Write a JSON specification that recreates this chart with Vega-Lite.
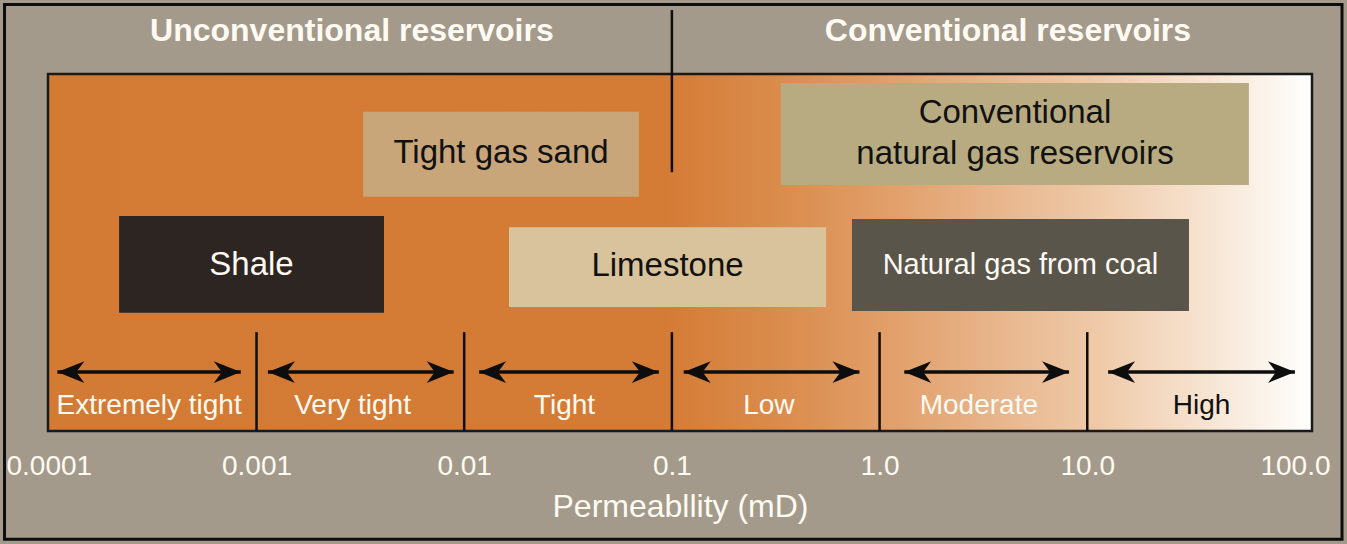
{
  "$schema": "https://vega.github.io/schema/vega-lite/v6.json",
  "width": 1264,
  "height": 357,
  "autosize": {"type": "none"},
  "padding": {"left": 48, "top": 74, "right": 35, "bottom": 113},
  "background": "#a39a8c",
  "config": {"view": {"stroke": null}, "text": {"font": "Liberation Sans"}},
  "datasets": {
    "boxes": [
      {"name": "Tight gas sand", "x1": 0.00326, "x2": 0.0694, "y1": 89.4, "y2": 65.6},
      {"name": "Conventional natural gas reservoirs", "x1": 0.335, "x2": 60.0, "y1": 97.5, "y2": 68.9},
      {"name": "Shale", "x1": 0.000218, "x2": 0.00411, "y1": 60.2, "y2": 33.1},
      {"name": "Limestone", "x1": 0.01643, "x2": 0.5526, "y1": 57.1, "y2": 34.7},
      {"name": "Natural gas from coal", "x1": 0.7364, "x2": 30.88, "y1": 59.4, "y2": 33.6}
    ],
    "boxlabels": [
      {"label": "Tight gas sand", "x": 0.01504, "y": 77.9},
      {"label": "Conventional\nnatural gas reservoirs", "x": 4.487, "y": 89.1},
      {"label": "Shale", "x": 0.000946, "y": 46.5},
      {"label": "Limestone", "x": 0.0953, "y": 46.2},
      {"label": "Natural gas from coal", "x": 4.769, "y": 46.5}
    ],
    "classes": [
      {"cls": "Extremely tight", "lo": 0.000110, "hi": 0.00084, "mid": 0.000304},
      {"cls": "Very tight", "lo": 0.001135, "hi": 0.0089, "mid": 0.0029},
      {"cls": "Tight", "lo": 0.0118, "hi": 0.0865, "mid": 0.0304},
      {"cls": "Low", "lo": 0.114, "hi": 0.80, "mid": 0.293},
      {"cls": "Moderate", "lo": 1.315, "hi": 8.17, "mid": 3.006},
      {"cls": "High", "lo": 12.6, "hi": 100, "mid": 35.5}
    ],
    "dividers": [{"v": 0.001}, {"v": 0.01}, {"v": 0.1}, {"v": 1}, {"v": 10}],
    "headers": [
      {"h": "Unconventional reservoirs", "x": 0.00288},
      {"h": "Conventional reservoirs", "x": 4.15}
    ],
    "one": [{}]
  },
  "layer": [
    {
      "data": {"name": "one"},
      "mark": {
        "type": "rect",
        "stroke": "#1a1a1a",
        "strokeWidth": 2.5,
        "fill": {
          "gradient": "linear",
          "x1": 0, "y1": 0, "x2": 1, "y2": 0,
          "stops": [
            {"offset": 0, "color": "#d37b34"},
            {"offset": 0.49, "color": "#d47c36"},
            {"offset": 0.58, "color": "#da8c4c"},
            {"offset": 0.674, "color": "#e2a16c"},
            {"offset": 0.753, "color": "#e8b68d"},
            {"offset": 0.832, "color": "#efcaa9"},
            {"offset": 0.911, "color": "#f6e2cf"},
            {"offset": 0.99, "color": "#fefcf9"},
            {"offset": 1, "color": "#ffffff"}
          ]
        }
      },
      "encoding": {
        "x": {
          "datum": 0.0000991, "type": "quantitative",
          "scale": {"type": "log", "domain": [0.0000991, 120.8], "nice": false},
          "axis": {
            "values": [0.0001, 0.001, 0.01, 0.1, 1, 10, 100],
            "labelExpr": "format(datum.value, datum.value >= 1 ? '.1f' : '.4~f')",
            "labelColor": "#fffaf2",
            "labelFont": "Liberation Sans",
            "labelFontSize": 28,
            "labelBaseline": "middle",
            "labelPadding": 35,
            "labelFlush": false,
            "labelOverlap": false,
            "domain": false,
            "ticks": false,
            "tickSize": 0,
            "grid": false,
            "title": "Permeabllity (mD)",
            "titleColor": "#fffaf2",
            "titleFont": "Liberation Sans",
            "titleFontSize": 32,
            "titleFontWeight": "normal",
            "titlePadding": 11
          }
        },
        "x2": {"datum": 120.8},
        "y": {"datum": 0, "type": "quantitative", "scale": {"domain": [0, 100], "nice": false, "zero": false}, "axis": null},
        "y2": {"datum": 100}
      }
    },
    {
      "data": {"name": "boxes"},
      "mark": {"type": "rect"},
      "encoding": {
        "x": {"field": "x1", "type": "quantitative", "scale": {"type": "log", "domain": [0.0000991, 120.8], "nice": false}},
        "x2": {"field": "x2"},
        "y": {"field": "y1", "type": "quantitative", "scale": {"domain": [0, 100], "nice": false, "zero": false}, "axis": null},
        "y2": {"field": "y2"},
        "color": {
          "field": "name", "type": "nominal", "legend": null,
          "scale": {
            "domain": ["Tight gas sand", "Conventional natural gas reservoirs", "Shale", "Limestone", "Natural gas from coal"],
            "range": ["#c9a57a", "#b9ab81", "#2d2522", "#d8c39c", "#5a554b"]
          }
        }
      }
    },
    {
      "data": {"name": "boxlabels"},
      "mark": {"type": "text", "lineBreak": "\n", "lineHeight": 41, "baseline": "middle", "align": "center"},
      "encoding": {
        "x": {"field": "x", "type": "quantitative", "scale": {"type": "log", "domain": [0.0000991, 120.8], "nice": false}},
        "y": {"field": "y", "type": "quantitative", "scale": {"domain": [0, 100], "nice": false, "zero": false}, "axis": null},
        "text": {"field": "label"},
        "color": {
          "condition": {"test": "datum.label === 'Shale' || datum.label === 'Natural gas from coal'", "value": "#fffaf2"},
          "value": "#111111"
        },
        "size": {
          "condition": {"test": "datum.label === 'Natural gas from coal'", "value": 29},
          "value": 33
        }
      }
    },
    {
      "data": {"name": "classes"},
      "mark": {"type": "rule", "color": "#0d0d0d", "strokeWidth": 3.5},
      "encoding": {
        "x": {"field": "lo", "type": "quantitative", "scale": {"type": "log", "domain": [0.0000991, 120.8], "nice": false}},
        "x2": {"field": "hi"},
        "y": {"datum": 16.5, "type": "quantitative", "scale": {"domain": [0, 100], "nice": false, "zero": false}, "axis": null}
      }
    },
    {
      "data": {"name": "classes"},
      "mark": {"type": "point", "shape": "M0,0L2,-0.8L1.4,0L2,0.8Z", "filled": true, "color": "#0d0d0d", "opacity": 1, "size": 729, "strokeWidth": 0},
      "encoding": {
        "x": {"field": "lo", "type": "quantitative", "scale": {"type": "log", "domain": [0.0000991, 120.8], "nice": false}},
        "y": {"datum": 16.5, "type": "quantitative", "scale": {"domain": [0, 100], "nice": false, "zero": false}, "axis": null}
      }
    },
    {
      "data": {"name": "classes"},
      "mark": {"type": "point", "shape": "M0,0L-2,-0.8L-1.4,0L-2,0.8Z", "filled": true, "color": "#0d0d0d", "opacity": 1, "size": 729, "strokeWidth": 0},
      "encoding": {
        "x": {"field": "hi", "type": "quantitative", "scale": {"type": "log", "domain": [0.0000991, 120.8], "nice": false}},
        "y": {"datum": 16.5, "type": "quantitative", "scale": {"domain": [0, 100], "nice": false, "zero": false}, "axis": null}
      }
    },
    {
      "data": {"name": "classes"},
      "mark": {"type": "text", "fontSize": 28, "baseline": "middle", "align": "center"},
      "encoding": {
        "x": {"field": "mid", "type": "quantitative", "scale": {"type": "log", "domain": [0.0000991, 120.8], "nice": false}},
        "y": {"datum": 7.0, "type": "quantitative", "scale": {"domain": [0, 100], "nice": false, "zero": false}, "axis": null},
        "text": {"field": "cls"},
        "color": {"condition": {"test": "datum.cls === 'High'", "value": "#111111"}, "value": "#fffaf2"}
      }
    },
    {
      "data": {"name": "dividers"},
      "mark": {"type": "rule", "color": "#0d0d0d", "strokeWidth": 2.5},
      "encoding": {
        "x": {"field": "v", "type": "quantitative", "scale": {"type": "log", "domain": [0.0000991, 120.8], "nice": false}},
        "y": {"datum": 27.7, "type": "quantitative", "scale": {"domain": [0, 100], "nice": false, "zero": false}, "axis": null},
        "y2": {"datum": 0}
      }
    },
    {
      "data": {"name": "one"},
      "mark": {"type": "rule", "color": "#0d0d0d", "strokeWidth": 2.5},
      "encoding": {
        "x": {"datum": 0.1, "type": "quantitative", "scale": {"type": "log", "domain": [0.0000991, 120.8], "nice": false}},
        "y": {"datum": 117.9, "type": "quantitative", "scale": {"domain": [0, 100], "nice": false, "zero": false}, "axis": null},
        "y2": {"datum": 72.5}
      }
    },
    {
      "data": {"name": "headers"},
      "mark": {"type": "text", "fontSize": 32, "fontWeight": "bold", "color": "#fffaf2", "baseline": "middle", "align": "center"},
      "encoding": {
        "x": {"field": "x", "type": "quantitative", "scale": {"type": "log", "domain": [0.0000991, 120.8], "nice": false}},
        "y": {"datum": 112.0, "type": "quantitative", "scale": {"domain": [0, 100], "nice": false, "zero": false}, "axis": null},
        "text": {"field": "h"}
      }
    },
    {
      "data": {"name": "one"},
      "mark": {"type": "rect", "fill": null, "stroke": "#0d0d0d", "strokeWidth": 3},
      "encoding": {
        "x": {"datum": 0.0000612, "type": "quantitative", "scale": {"type": "log", "domain": [0.0000991, 120.8], "nice": false}},
        "x2": {"datum": 168.5},
        "y": {"datum": 119.5, "type": "quantitative", "scale": {"domain": [0, 100], "nice": false, "zero": false}, "axis": null},
        "y2": {"datum": -30.3}
      }
    }
  ]
}
